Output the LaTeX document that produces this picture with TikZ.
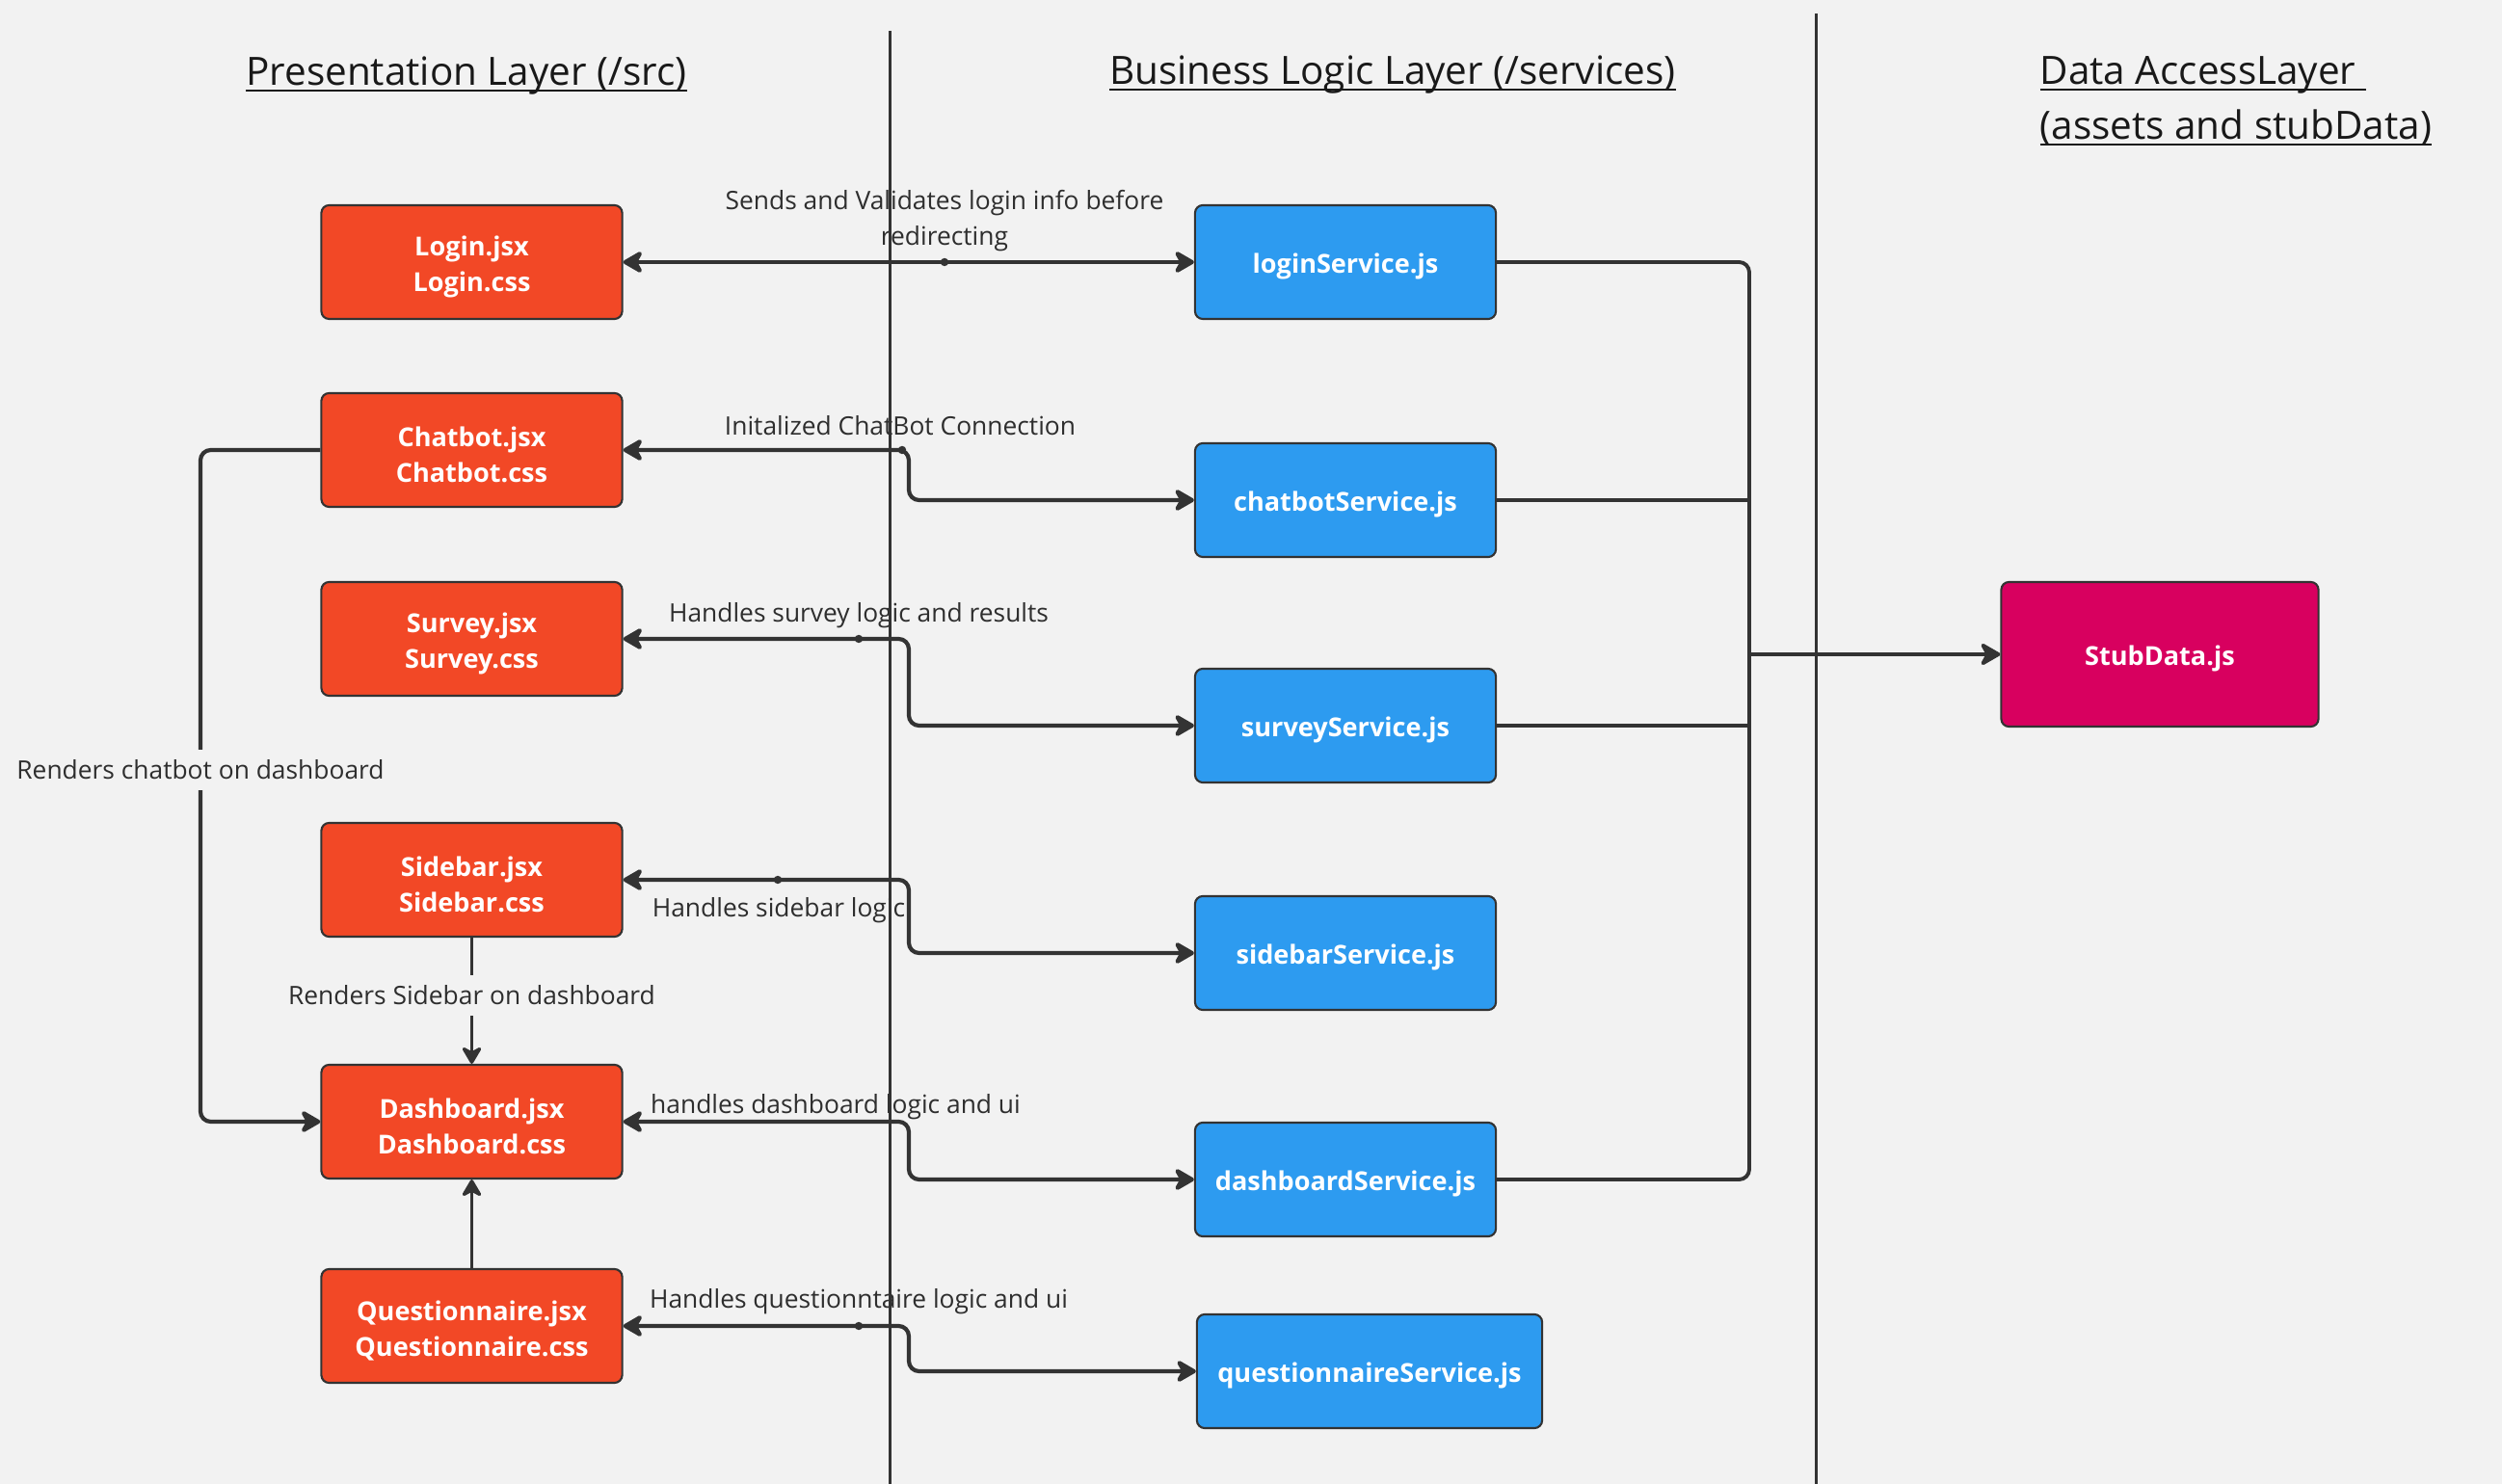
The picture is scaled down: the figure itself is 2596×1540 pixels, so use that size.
\documentclass[tikz,border=0pt]{standalone}
\usepackage{fontspec}
\setmainfont{Open Sans}
\usetikzlibrary{arrows.meta}
\definecolor{bg}{RGB}{242,242,242}
\definecolor{ln}{RGB}{51,51,51}
\definecolor{pres}{RGB}{242,72,38}
\definecolor{svc}{RGB}{45,155,240}
\definecolor{stub}{RGB}{216,0,95}
\newcommand\ttl[1]{\underline{\smash{#1}}}
% box shape + shifted text
\newcommand\bx[4]{\node[#1] (#2) at (#3) {};
  \node[btxt] (#2-t) at ([yshift=-1.4pt]#2.center) {#4};}
\begin{document}
\begin{tikzpicture}[x=0.01cm,y=-0.01cm,
  box/.style={draw=ln, line width=0.6pt, rounded corners=2.3pt, minimum height=1.18cm, inner sep=0pt},
  btxt/.style={text=white, font=\bfseries\fontsize{7.7}{10.5}\selectfont, align=center, inner sep=0pt},
  pbox/.style={box, fill=pres, minimum width=3.12cm},
  sbox/.style={box, fill=svc, minimum width=3.12cm},
  lbl/.style={font=\fontsize{7.5}{10.5}\selectfont, text=ln!90!black, align=center, inner sep=1pt},
  ttlstyle/.style={font=\fontsize{11.5}{16}\selectfont, text=black!90, inner sep=0pt},
  conn/.style={draw=ln, line width=1.2pt, rounded corners=3pt},
  thin/.style={draw=ln, line width=0.95pt, rounded corners=3pt},
  bus/.style={draw=ln, line width=1.1pt, rounded corners=3pt},
  sep/.style={draw=ln, line width=0.85pt},
  ctip/.tip={Stealth[length=7pt,width=8pt,inset=2.2pt,round]},
  vtip/.tip={Stealth[length=6pt,width=7pt,inset=1.9pt,round]},
  dot/.style={fill=ln}
]
\fill[bg] (0,0) rectangle (2596,1540);
\useasboundingbox (0,0) rectangle (2596,1540);

% titles
\node[ttlstyle, anchor=base] (t1) at (484,89) {\ttl{Presentation Layer (/src)}};
\node[ttlstyle, anchor=base] (t2) at (1445,88) {\ttl{Business Logic Layer (/services)}};
\node[ttlstyle, anchor=base west] (t3) at (2116,88) {\ttl{Data AccessLayer\ }};
\node[ttlstyle, anchor=base west] (t4) at (2116,145) {\ttl{(assets and stubData)}};

% presentation boxes
\bx{pbox}{login}{489.5,272}{Login.jsx\\Login.css}
\bx{pbox}{chatbot}{489.5,467}{Chatbot.jsx\\Chatbot.css}
\bx{pbox}{survey}{489.5,663}{Survey.jsx\\Survey.css}
\bx{pbox}{sidebar}{489.5,913}{Sidebar.jsx\\Sidebar.css}
\bx{pbox}{dash}{489.5,1164}{Dashboard.jsx\\Dashboard.css}
\bx{pbox}{quest}{489.5,1376}{Questionnaire.jsx\\Questionnaire.css}

% service boxes
\bx{sbox}{loginS}{1396,272}{loginService.js}
\bx{sbox}{chatS}{1396,519}{chatbotService.js}
\bx{sbox}{survS}{1396,753}{surveyService.js}
\bx{sbox}{sideS}{1396,989}{sidebarService.js}
\bx{sbox}{dashS}{1396,1224}{dashboardService.js}
\bx{box, fill=svc, minimum width=3.58cm}{questS}{1421,1423}{questionnaireService.js}

% data box
\bx{box, fill=stub, minimum width=3.29cm, minimum height=1.50cm}{stubN}{2241,679}{StubData.js}

\coordinate (ex) at (943,0);
\coordinate (bx) at (1815,0);
\coordinate (lx) at (208,0);

% connectors presentation <-> services
\draw[conn, ctip-ctip] (login.east) -- (loginS.west);
\draw[conn, ctip-ctip] (chatbot.east) -- (chatbot.east -| ex) |- (chatS.west);
\draw[conn, ctip-ctip] (survey.east) -- (survey.east -| ex) |- (survS.west);
\draw[conn, ctip-ctip] (sidebar.east) -- (sidebar.east -| ex) |- (sideS.west);
\draw[conn, ctip-ctip] (dash.east) -- (dash.east -| ex) |- (dashS.west);
\draw[conn, ctip-ctip] (quest.east) -- (quest.east -| ex) |- (questS.west);

% dots
\fill[dot] (980,272) circle (1.2pt);
\fill[dot] (936,467) circle (1.2pt);
\fill[dot] (891,663) circle (1.2pt);
\fill[dot] (807,913) circle (1.2pt);
\fill[dot] (891,1376) circle (1.2pt);

% labels
\node[lbl] (l1) at (980,229) {Sends and Validates login info before\\redirecting};
\node[lbl] (l2) at (934,442) {Initalized ChatBot Connection};
\node[lbl] (l3) at (891,639) {Handles survey logic and results};
\node[lbl] (l4) at (808,945) {Handles sidebar logic};
\node[lbl] (l5) at (867,1149) {handles dashboard logic and ui};
\node[lbl] (l6) at (891,1351) {Handles questionntaire logic and ui};

% presentation internal
\draw[conn, -ctip] (chatbot.west) -- (chatbot.west -| lx) -- (dash.west -| lx) -- (dash.west);
\node[lbl, fill=bg, inner sep=3pt] (l7) at (208,799) {Renders chatbot on dashboard};
\draw[thin, -vtip] (sidebar.south) -- (dash.north);
\node[lbl, fill=bg, inner sep=3pt] (l8) at (489.5,1033) {Renders Sidebar on dashboard};
\draw[thin, -vtip] (quest.north) -- (dash.south);

% bus to data
\draw[bus] (loginS.east) -- (loginS.east -| bx) -- (dashS.east -| bx) -- (dashS.east);
\draw[bus] (chatS.east) -- (chatS.east -| bx);
\draw[bus] (survS.east) -- (survS.east -| bx);
\draw[bus, -ctip] (stubN.west -| bx) -- (stubN.west);

% separators
\coordinate (s1t) at (923,32);
\coordinate (s1b) at (923,1540);
\coordinate (s2t) at (1884,14);
\coordinate (s2b) at (1884,1540);
\draw[sep] (s1t) -- (s1b);
\draw[sep] (s2t) -- (s2b);
\end{tikzpicture}
\end{document}
